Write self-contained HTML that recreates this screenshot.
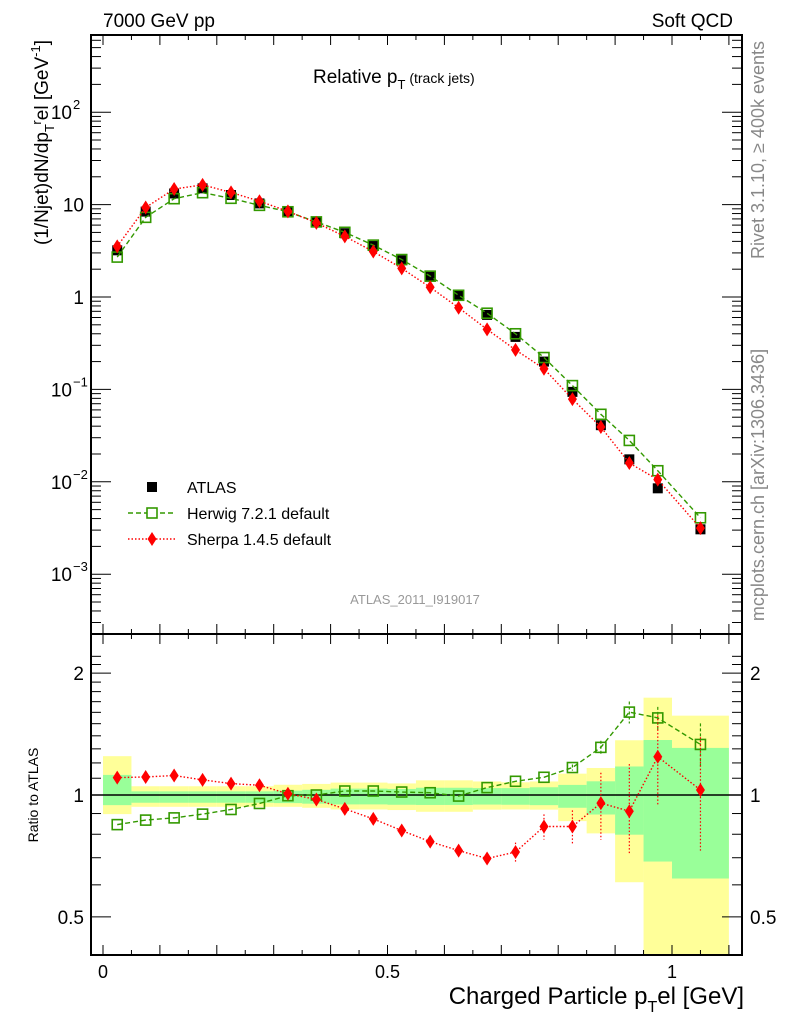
<!DOCTYPE html>
<html><head><meta charset="utf-8"><style>
body{margin:0;background:#fff;}
svg{display:block;font-family:"Liberation Sans",sans-serif;}
</style></head><body>
<svg id="c" width="786" height="1024" viewBox="0 0 786 1024"></svg>
<script>
const binLo=[0,0.05,0.1,0.15,0.2,0.25,0.3,0.35,0.4,0.45,0.5,0.55,0.6,0.65,0.7,0.75,0.8,0.85,0.9,0.95,1.0];
const binHi=[0.05,0.1,0.15,0.2,0.25,0.3,0.35,0.4,0.45,0.5,0.55,0.6,0.65,0.7,0.75,0.8,0.85,0.9,0.95,1.0,1.1];
const atlas=[3.2,8.4,13.2,15.0,12.7,10.3,8.4,6.5,4.9,3.56,2.5,1.66,1.05,0.64,0.37,0.20,0.094,0.041,0.0175,0.0085,0.00306];
const herwigRatio=[0.845,0.867,0.878,0.897,0.921,0.953,0.996,1.0,1.023,1.023,1.017,1.013,0.994,1.043,1.081,1.106,1.169,1.311,1.602,1.55,1.333];
const herwigErr=[0,0,0,0,0,0,0,0,0,0,0,0,0,0,0,0,0.02,0.05,0.1,0.1,0.17];
const sherpaRatio=[1.104,1.108,1.117,1.09,1.067,1.057,1.007,0.975,0.924,0.873,0.817,0.767,0.729,0.697,0.723,0.836,0.836,0.955,0.912,1.243,1.029];
const sherpaErrUp=[0,0,0,0,0,0,0,0,0,0,0,0,0,0.02,0.04,0.06,0.08,0.18,0.28,0.33,0.36];
const sherpaErrDn=[0,0,0,0,0,0,0,0,0,0,0,0,0,0.02,0.04,0.06,0.08,0.18,0.2,0.3,0.3];
const yelHi=[1.247,1.051,1.051,1.051,1.051,1.051,1.06,1.065,1.073,1.073,1.068,1.087,1.087,1.08,1.075,1.08,1.129,1.166,1.365,1.739,1.57];
const yelLo=[0.897,0.935,0.935,0.935,0.935,0.935,0.935,0.93,0.921,0.921,0.918,0.909,0.909,0.92,0.921,0.92,0.862,0.804,0.609,0.394,0.394];
const grnHi=[1.121,1.021,1.021,1.021,1.021,1.021,1.025,1.03,1.037,1.037,1.035,1.042,1.042,1.04,1.04,1.045,1.059,1.081,1.176,1.367,1.307];
const grnLo=[0.944,0.957,0.957,0.957,0.957,0.957,0.955,0.952,0.948,0.948,0.946,0.945,0.945,0.947,0.946,0.944,0.930,0.895,0.798,0.685,0.622];
const mainTicks=[2,1,0,-1,-2,-3];
const mainTickLabels=["10","10","1","10","10","10"];
const mainTickExp=["2","","","\u22121","\u22122","\u22123"];
const ratioTicks=[2,1,0.5];
const ratioTickLabels=["2","1","0.5"];
const xTicks=[0,0.5,1];
const xTickLabels=["0","0.5","1"];

const NS="http://www.w3.org/2000/svg";
const svg=document.getElementById('c');
const L=91,R=742,T=35,MB=634,RB=955;
const X=v=>103+v*569;
const YM=v=>297-Math.log10(v)*92.4;
const YR=v=>795-Math.log10(v)*405;
function el(tag,attrs,parent){const e=document.createElementNS(NS,tag);for(const k in attrs)e.setAttribute(k,attrs[k]);(parent||svg).appendChild(e);return e;}
function clipR(y){return Math.max(MB,Math.min(RB,y));}

const bands=el('g',{});


for(let i=0;i<binLo.length;i++){
  const y1=clipR(YR(yelHi[i])),y2=clipR(YR(yelLo[i]));
  const r=el('rect',{x:X(binLo[i]),y:y1,width:X(binHi[i])-X(binLo[i]),height:y2-y1,fill:'#ffff99'},bands);
  
  
}
for(let i=0;i<binLo.length;i++){
  const y1=clipR(YR(grnHi[i])),y2=clipR(YR(grnLo[i]));
  const r=el('rect',{x:X(binLo[i]),y:y1,width:X(binHi[i])-X(binLo[i]),height:y2-y1,fill:'#99ff99'},bands);
  
  
}
el('line',{x1:L,x2:R,y1:YR(1),y2:YR(1),stroke:'#000','stroke-width':1.5});

const cx=i=>X((binLo[i]+binHi[i])/2);
function square(x,y,g,fill,stroke,s){return el('rect',{x:x-s/2,y:y-s/2,width:s,height:s,fill:fill,stroke:stroke,'stroke-width':1.6},g);}
function diamond(x,y,g){return el('polygon',{points:`${x},${y-7} ${x+4.5},${y} ${x},${y+7} ${x-4.5},${y}`,fill:'#ff0000'},g);}

const ga=el('g',{});
const gh=el('g',{});
const gs=el('g',{});
for(let i=0;i<atlas.length;i++){const p=square(cx(i),YM(atlas[i]),ga,'#000','none',10);}
let hp=[],sp=[];
for(let i=0;i<atlas.length;i++){hp.push(cx(i)+','+YM(atlas[i]*herwigRatio[i]));sp.push(cx(i)+','+YM(atlas[i]*sherpaRatio[i]));}
el('polyline',{points:hp.join(' '),fill:'none',stroke:'#339900','stroke-width':1.4,'stroke-dasharray':'5,3'},gh);
el('polyline',{points:sp.join(' '),fill:'none',stroke:'#ff0000','stroke-width':1.4,'stroke-dasharray':'1.5,2'},gs);
for(let i=0;i<atlas.length;i++){const p=square(cx(i),YM(atlas[i]*herwigRatio[i]),gh,'none','#339900',10);}
for(let i=0;i<atlas.length;i++){const p=diamond(cx(i),YM(atlas[i]*sherpaRatio[i]),gs);}

const rh=el('g',{});
const rs=el('g',{});
let hr=[],sr=[];
for(let i=0;i<atlas.length;i++){hr.push(cx(i)+','+YR(herwigRatio[i]));sr.push(cx(i)+','+YR(sherpaRatio[i]));}
el('polyline',{points:hr.join(' '),fill:'none',stroke:'#339900','stroke-width':1.4,'stroke-dasharray':'5,3'},rh);
el('polyline',{points:sr.join(' '),fill:'none',stroke:'#ff0000','stroke-width':1.4,'stroke-dasharray':'1.5,2'},rs);
for(let i=0;i<atlas.length;i++){
  if(herwigErr[i]>0)el('line',{x1:cx(i),x2:cx(i),y1:YR(herwigRatio[i]+herwigErr[i]),y2:YR(herwigRatio[i]-herwigErr[i]),stroke:'#339900','stroke-width':1.2,'stroke-dasharray':'3,2'},rh);
  if(sherpaErrUp[i]>0)el('line',{x1:cx(i),x2:cx(i),y1:YR(sherpaRatio[i]+sherpaErrUp[i]),y2:YR(sherpaRatio[i]-sherpaErrDn[i]),stroke:'#ff0000','stroke-width':1.2,'stroke-dasharray':'1.5,2'},rs);
  const p=square(cx(i),YR(herwigRatio[i]),rh,'none','#339900',10);
  const q=diamond(cx(i),YR(sherpaRatio[i]),rs);
}

el('rect',{x:L,y:T,width:R-L,height:MB-T,fill:'none',stroke:'#000','stroke-width':2});
el('rect',{x:L,y:MB,width:R-L,height:RB-MB,fill:'none',stroke:'#000','stroke-width':2});

for(let k=0;k<=22;k++){const v=k*0.05;const x=X(v);if(x>R)break;const len=(k%2==0)?10:5;
  [[MB,-1],[RB,-1],[T,1],[MB,1]].forEach(([y,d])=>el('line',{x1:x,x2:x,y1:y,y2:y+d*len,stroke:'#000','stroke-width':1}));}
for(let i=0;i<xTicks.length;i++){const t=el('text',{x:X(xTicks[i]),y:978,'font-size':18,'text-anchor':'middle'});t.textContent=xTickLabels[i];
  }

for(let d=-4;d<=2;d++){for(let m=1;m<10;m++){const v=m*Math.pow(10,d);const y=YM(v);if(y<T||y>MB)continue;const len=m==1?20:10;
  el('line',{x1:L,x2:L+len,y1:y,y2:y,stroke:'#000','stroke-width':1});el('line',{x1:R,x2:R-len,y1:y,y2:y,stroke:'#000','stroke-width':1});}}
for(let i=0;i<mainTicks.length;i++){const y=YM(Math.pow(10,mainTicks[i]));
  const t=el('text',{x:mainTickExp[i]?72:84,y:y+7,'font-size':19,'text-anchor':'end'});t.textContent=mainTickLabels[i];
  
  if(mainTickExp[i]){const e=el('text',{x:73,y:y-3,'font-size':13});e.textContent=mainTickExp[i];}}

for(let k=4;k<=22;k++){const v=k/10;const y=YR(v);if(y<MB||y>RB)continue;const len=(k==5||k==10||k==20)?20:10;
  el('line',{x1:L,x2:L+len,y1:y,y2:y,stroke:'#000','stroke-width':1});el('line',{x1:R,x2:R-len,y1:y,y2:y,stroke:'#000','stroke-width':1});}
for(let i=0;i<ratioTicks.length;i++){const y=YR(ratioTicks[i]);
  const t=el('text',{x:84,y:y+7,'font-size':19,'text-anchor':'end'});t.textContent=ratioTickLabels[i];
  
  const u=el('text',{x:750,y:y+7,'font-size':19});u.textContent=ratioTickLabels[i];
  }
</script>
<svg width="786" height="1024" style="position:absolute;left:0;top:0" font-family="Liberation Sans, sans-serif">
<text x="103" y="27" font-size="19">7000 GeV pp</text>
<text x="733" y="27" font-size="19" text-anchor="end">Soft QCD</text>
<text x="313" y="83" font-size="19">Relative p<tspan font-size="13" dy="6">T</tspan><tspan font-size="14" dy="-6"> (track jets)</tspan></text>
<text transform="translate(48,40) rotate(-90)" font-size="19" text-anchor="end">(1/Njet)dN/dp<tspan font-size="13" dy="6">T</tspan><tspan font-size="13" dy="-13">r</tspan><tspan dy="7">el [GeV</tspan><tspan font-size="13" dy="-8">-1</tspan><tspan dy="8">]</tspan></text>
<text transform="translate(38,795) rotate(-90)" font-size="14" text-anchor="middle">Ratio to ATLAS</text>
<text x="744" y="1004" font-size="24" text-anchor="end">Charged Particle p<tspan font-size="16" dy="8">T</tspan><tspan dy="-8">el [GeV]</tspan></text>
<text transform="translate(764,150) rotate(-90)" font-size="18" fill="#888" text-anchor="middle">Rivet 3.1.10, ≥ 400k events</text>
<text transform="translate(764,485) rotate(-90)" font-size="18" fill="#888" text-anchor="middle">mcplots.cern.ch [arXiv:1306.3436]</text>
<text x="415" y="604" font-size="13" fill="#999" text-anchor="middle">ATLAS_2011_I919017</text>
<g>
<rect x="147" y="482" width="10" height="10" fill="#000"/>
<text x="187" y="493" font-size="16">ATLAS</text>
<line x1="128" x2="176" y1="513" y2="513" stroke="#339900" stroke-width="1.4" stroke-dasharray="5,3"/>
<rect x="147" y="508" width="10" height="10" fill="#fff" stroke="#339900" stroke-width="1.6"/>
<text x="187" y="519" font-size="16">Herwig 7.2.1 default</text>
<line x1="128" x2="176" y1="539" y2="539" stroke="#ff0000" stroke-width="1.4" stroke-dasharray="1.5,2"/>
<polygon points="152,532 156.5,539 152,546 147.5,539" fill="#ff0000"/>
<text x="187" y="545" font-size="16">Sherpa 1.4.5 default</text>
</g>
</svg>
</body></html>
